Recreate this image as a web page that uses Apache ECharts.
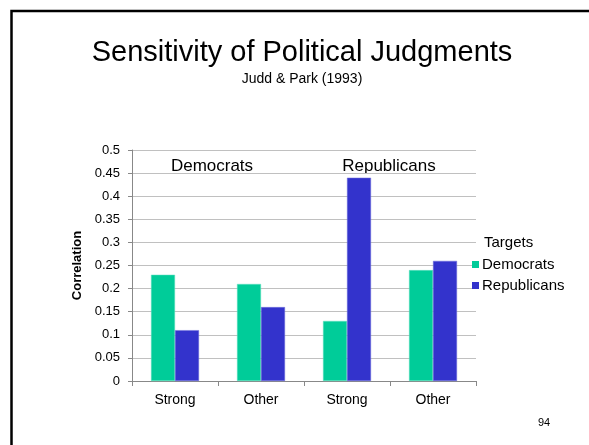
<!DOCTYPE html>
<html>
<head>
<meta charset="utf-8">
<script src="https://cdn.jsdelivr.net/npm/echarts@6/dist/echarts.min.js"></script>
<style>
  html, body { margin: 0; padding: 0; background: #fff; }
  #main { width: 589px; height: 445px; }
</style>
</head>
<body>
<div id="main"></div>
<script>
// categories along the x axis (target strength)
const categories = ['Strong', 'Other', 'Strong', 'Other'];
// correlations for each target group
const democratsValues = [0.23, 0.21, 0.13, 0.24];
const republicansValues = [0.11, 0.16, 0.44, 0.26];
const seriesNames = ['Democrats', 'Republicans'];
const groupLabels = ['Democrats', 'Republicans'];

var myChart = echarts.init(document.getElementById('main'));
const font = 'Liberation Sans, Arial, sans-serif';

var option = {
    backgroundColor: '#fff',
    textStyle: { fontFamily: font },
    animation: false,
    grid: { left: 132, right: 113, top: 150, bottom: 64 },
    xAxis: {
        type: 'category',
        data: categories,
        axisLine: { lineStyle: { color: '#888', width: 1 } },
        axisTick: { show: true, length: 5, lineStyle: { color: '#888' } },
        axisLabel: { color: '#000', fontSize: 14, fontFamily: font, margin: 12 }
    },
    yAxis: {
        type: 'value',
        min: 0,
        max: 0.5,
        interval: 0.05,
        name: 'Correlation',
        nameLocation: 'middle',
        nameGap: 42,
        nameTextStyle: { color: '#000', fontSize: 13, fontWeight: 'bold', fontFamily: font },
        axisLine: { show: true, lineStyle: { color: '#888' } },
        axisTick: { show: true, length: 4, lineStyle: { color: '#888' } },
        axisLabel: {
            color: '#000', fontSize: 13, fontFamily: font, margin: 12,
            formatter: function (v) { return String(parseFloat(v.toFixed(2))); }
        },
        splitLine: { lineStyle: { color: '#c0c0c0', width: 1 } }
    },
    legend: {
        orient: 'vertical',
        left: 472,
        top: 257,
        padding: 0,
        itemWidth: 7,
        itemHeight: 7,
        itemGap: 6,
        icon: 'rect',
        itemStyle: { borderWidth: 0 },
        textStyle: { color: '#000', fontSize: 15, lineHeight: 15, fontFamily: font, padding: [0, 0, 0, -2] },
        data: seriesNames
    },
    series: [
        {
            name: seriesNames[0],
            type: 'bar',
            data: democratsValues,
            barWidth: 24,
            barGap: '0%',
            itemStyle: { color: '#00cc99', borderColor: '#66e0c2', borderWidth: 0.5 }
        },
        {
            name: seriesNames[1],
            type: 'bar',
            data: republicansValues,
            barWidth: 24,
            itemStyle: { color: '#3333cc', borderColor: '#7070dd', borderWidth: 0.5 }
        }
    ],
    graphic: [
        {
            type: 'rect',
            shape: { x: 11.5, y: 11, width: 700, height: 600 },
            style: { fill: 'none', stroke: '#000', lineWidth: 2.5 },
            silent: true
        },
        {
            type: 'text', x: 302, y: 53,
            style: { text: 'Sensitivity of Political Judgments', font: '29px ' + font, fill: '#000', align: 'center', verticalAlign: 'middle' }
        },
        {
            type: 'text', x: 302, y: 79,
            style: { text: 'Judd & Park (1993)', font: '14px ' + font, fill: '#000', align: 'center', verticalAlign: 'middle' }
        },
        {
            type: 'text', x: 212, y: 166,
            style: { text: groupLabels[0], font: '17px ' + font, fill: '#000', align: 'center', verticalAlign: 'middle' }
        },
        {
            type: 'text', x: 389, y: 166,
            style: { text: groupLabels[1], font: '17px ' + font, fill: '#000', align: 'center', verticalAlign: 'middle' }
        },
        {
            type: 'text', x: 484, y: 243,
            style: { text: 'Targets', font: '15px ' + font, fill: '#000', align: 'left', verticalAlign: 'middle' }
        },
        {
            type: 'text', x: 544, y: 423,
            style: { text: '94', font: '11px ' + font, fill: '#000', align: 'center', verticalAlign: 'middle' }
        }
    ]
};

myChart.setOption(option);
window.addEventListener('resize', function () { myChart.resize(); });
</script>
</body>
</html>
